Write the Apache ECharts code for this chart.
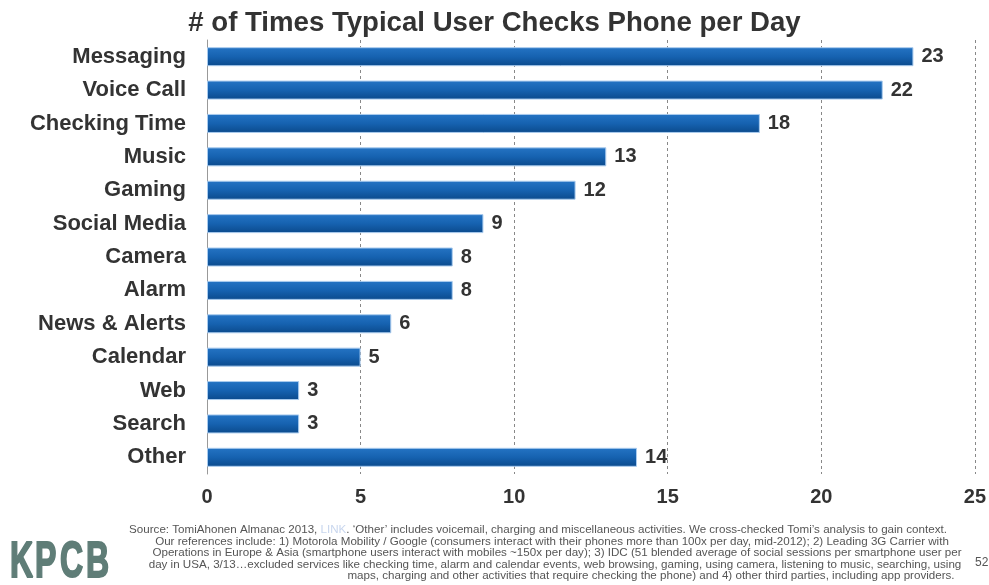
<!DOCTYPE html>
<html><head><meta charset="utf-8">
<script src="https://cdn.jsdelivr.net/npm/echarts@6/dist/echarts.min.js"></script>
<style>html,body{margin:0;padding:0;background:#fff}#c{width:989px;height:585px}</style>
</head><body><div id="c"></div>
<script>
var categories = ['Messaging','Voice Call','Checking Time','Music','Gaming','Social Media','Camera','Alarm','News & Alerts','Calendar','Web','Search','Other'];
var values = [23,22,18,13,12,9,8,8,6,5,3,3,14];
var xTicks = [0,5,10,15,20,25];
var title = '# of Times Typical User Checks Phone per Day';
var sourceLines = [
  ['Source: TomiAhonen Almanac 2013, ', 'LINK', '. \u2018Other\u2019 includes voicemail, charging and miscellaneous activities. We cross-checked Tomi\u2019s analysis to gain context.'],
  ['Our references include: 1) Motorola Mobility / Google (consumers interact with their phones more than 100x per day, mid-2012); 2) Leading 3G Carrier with'],
  ['Operations in Europe & Asia (smartphone users interact with mobiles ~150x per day); 3) IDC (51 blended average of social sessions per smartphone user per'],
  ['day in USA, 3/13\u2026excluded services like checking time, alarm and calendar events, web browsing, gaming, using camera, listening to music, searching, using'],
  ['maps, charging and other activities that require checking the phone) and 4) other third parties, including app providers.']
];

var chart = echarts.init(document.getElementById('c'));
var graphics = [];
var logo = ['K','P','C','B'];
var logoX = [10, 35, 60, 86];
logo.forEach(function(ch, i){
  graphics.push({type:'text', x:logoX[i], y:563, scaleX:0.64, style:{text:ch, font:'bold 50px "Liberation Sans", Arial, sans-serif', fill:'#5f7d77', stroke:'#5f7d77', lineWidth:2, verticalAlign:'middle'}});
});
var ys = [530,541.5,553,564.5,576];
var xs = [538,552,557,555,651];
sourceLines.forEach(function(parts, i){
  var txt, rich = {n:{fill:'#555'}, l:{fill:'#c8d6ee'}};
  if (parts.length === 3) txt = '{n|'+parts[0]+'}{l|'+parts[1]+'}{n|'+parts[2]+'}';
  else txt = '{n|'+parts[0]+'}';
  graphics.push({type:'text', x:xs[i], y:ys[i], style:{text:txt, rich:rich, font:'11.6px "Liberation Sans Narrow", sans-serif', fill:'#555', align:'center', verticalAlign:'middle'}});
});
graphics.push({type:'text', x:975, y:563, style:{text:'52', font:'12px "Liberation Sans", sans-serif', fill:'#555', verticalAlign:'middle'}});

chart.setOption({
  backgroundColor:'#fff',
  animation:false,
  title:{text:title, left:'center', top:4, textStyle:{fontFamily:'"Liberation Sans", Arial, sans-serif', fontSize:27.6, fontWeight:'bold', color:'#333'}},
  grid:{left:207, right:14, top:40, bottom:111},
  xAxis:{type:'value', min:0, max:25, interval:5,
    axisLine:{show:false}, axisTick:{show:false},
    splitLine:{show:true, lineStyle:{type:[3,3], color:'#888', width:1}},
    axisLabel:{margin:13, fontFamily:'"Liberation Sans", Arial, sans-serif', fontSize:20, fontWeight:'bold', color:'#333',
      formatter:function(v){return xTicks.indexOf(v)>=0 ? String(v) : '';}}
  },
  yAxis:{type:'category', data:categories, inverse:true,
    axisLine:{show:true, lineStyle:{color:'#999', width:1}}, axisTick:{show:false},
    axisLabel:{margin:21, fontFamily:'"Liberation Sans", Arial, sans-serif', fontSize:22, fontWeight:'bold', color:'#333'}
  },
  series:[{type:'bar', data:values, barWidth:19,
    itemStyle:{color:new echarts.graphic.LinearGradient(0,0,0,1,[{offset:0,color:'#2574c4'},{offset:0.5,color:'#1662b0'},{offset:1,color:'#0b4a8c'}]), borderColor:'#a9cbee', borderWidth:1},
    label:{show:true, position:'right', distance:8, fontFamily:'"Liberation Sans", Arial, sans-serif', fontSize:20, fontWeight:'bold', color:'#333'}
  }],
  graphic:graphics
});
</script></body></html>
